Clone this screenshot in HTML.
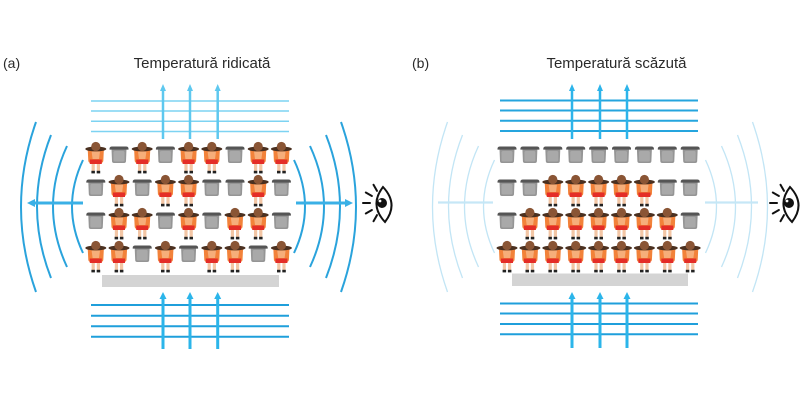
<!DOCTYPE html>
<html><head><meta charset="utf-8"><style>
html,body{margin:0;padding:0;background:#fff;}
svg{display:block;}
text{font-family:"Liberation Sans",sans-serif;fill:#2a2a2a;}
</style></head><body>
<svg width="800" height="402" viewBox="0 0 800 402" xmlns="http://www.w3.org/2000/svg">
<defs>
<g id="p">
 <rect x="-4.2" y="18" width="3.2" height="7.5" fill="#f3c6a5"/>
 <rect x="1" y="18" width="3.2" height="7.5" fill="#f3c6a5"/>
 <rect x="-4.4" y="24.8" width="3.5" height="2.6" fill="#222"/>
 <rect x="0.9" y="24.8" width="3.5" height="2.6" fill="#222"/>
 <path d="M-8,5 Q-9,3.5 -6.5,3.5 L6.5,3.5 Q9,3.5 8,5 L7.5,15 Q7,17 5,17 L-5,17 Q-7,17 -7.5,15 Z" fill="#f2823a"/>
 <path d="M-4.2,5.5 L4.2,5.5 L3.2,13 L-3.2,13 Z" fill="#f6ae7a"/>
 <rect x="-6" y="13.5" width="12" height="4.5" fill="#e42d27"/>
 <ellipse cx="0" cy="3" rx="10.5" ry="2.4" fill="#4a3020"/>
 <circle cx="0" cy="0.5" r="4.6" fill="#8a5535"/>
</g>
<g id="s">
 <path d="M-7.5,3 L7.5,3 L7,15 Q7,17 5,17 L-5,17 Q-7,17 -7,15 Z" fill="#959595"/>
 <rect x="-5.5" y="5" width="11" height="10.5" rx="1.5" fill="#a9a9a9"/>
 <path d="M-9.5,2.8 Q-9.5,0.5 -7,0.5 L7,0.5 Q9.5,0.5 9.5,2.8 L9.5,3.6 L-9.5,3.6 Z" fill="#555"/>
</g>
<g id="eye">
 <path d="M383,187 Q369,205 385,222 Q399,204 383,187 Z" fill="#fff" stroke="#111" stroke-width="2"/>
 <circle cx="382" cy="203" r="5" fill="#111"/>
 <circle cx="380" cy="201" r="1.4" fill="#fff"/>
 <g stroke="#111" stroke-width="2" stroke-linecap="round">
  <line x1="377" y1="190.9" x2="373.5" y2="184.8"/>
  <line x1="371.9" y1="196" x2="365.8" y2="192.5"/>
  <line x1="370" y1="203" x2="363" y2="203"/>
  <line x1="371.9" y1="210" x2="365.8" y2="213.5"/>
  <line x1="377" y1="215.1" x2="373.5" y2="221.2"/>
 </g>
</g>
<g id="arcs">
 <path d="M36,122 Q6,207 36,292"/>
 <path d="M51,135 Q23,206.5 51,278"/>
 <path d="M67,146 Q39,206.5 67,267"/>
 <path d="M83,160 Q61,206.5 83,253"/>
 <path d="M341,122 Q371,207 341,292"/>
 <path d="M326,135 Q354,206.5 326,278"/>
 <path d="M310,146 Q338,206.5 310,267"/>
 <path d="M294,160 Q316,206.5 294,253"/>
</g>
</defs>

<!-- ================= (a) ================= -->
<text x="3" y="68" font-size="14">(a)</text>
<text x="202" y="68" font-size="15" text-anchor="middle">Temperatură ridicată</text>

<g stroke="#7dd3f2" stroke-width="1.5">
 <line x1="91" y1="101" x2="289" y2="101"/>
 <line x1="91" y1="111" x2="289" y2="111"/>
 <line x1="91" y1="121.3" x2="289" y2="121.3"/>
 <line x1="91" y1="131.5" x2="289" y2="131.5"/>
</g>
<g stroke="#5ec8ef" stroke-width="2.5">
 <line x1="163" y1="139" x2="163" y2="90"/>
 <line x1="190" y1="139" x2="190" y2="90"/>
 <line x1="217.7" y1="139" x2="217.7" y2="90"/>
</g>
<g fill="#5ec8ef">
 <polygon points="163,84 160,91 166,91"/>
 <polygon points="190,84 187,91 193,91"/>
 <polygon points="217.7,84 214.7,91 220.7,91"/>
</g>

<g stroke="#1f9fdb" stroke-width="2">
 <line x1="91" y1="305" x2="289" y2="305"/>
 <line x1="91" y1="315.7" x2="289" y2="315.7"/>
 <line x1="91" y1="326.3" x2="289" y2="326.3"/>
 <line x1="91" y1="336.7" x2="289" y2="336.7"/>
</g>
<g stroke="#2bb5ea" stroke-width="3">
 <line x1="163" y1="349" x2="163" y2="298"/>
 <line x1="190" y1="349" x2="190" y2="298"/>
 <line x1="217.7" y1="349" x2="217.7" y2="298"/>
</g>
<g fill="#2bb5ea">
 <polygon points="163,292 159.5,299 166.5,299"/>
 <polygon points="190,292 186.5,299 193.5,299"/>
 <polygon points="217.7,292 214.2,299 221.2,299"/>
</g>

<g fill="none" stroke="#2aa3dc" stroke-width="2"><use href="#arcs"/></g>
<g stroke="#3ab0e6" stroke-width="3">
 <line x1="83" y1="203" x2="33" y2="203"/>
 <line x1="296" y1="203" x2="347" y2="203"/>
</g>
<g fill="#3ab0e6">
 <polygon points="27,203 35,199 35,207"/>
 <polygon points="353,203 345,199 345,207"/>
</g>

<rect x="102" y="275" width="177" height="12" fill="#d4d4d4"/>

<use href="#p" transform="translate(95.8,146)"/>
<use href="#s" transform="translate(119,146)"/>
<use href="#p" transform="translate(142.2,146)"/>
<use href="#s" transform="translate(165.4,146)"/>
<use href="#p" transform="translate(188.6,146)"/>
<use href="#p" transform="translate(211.8,146)"/>
<use href="#s" transform="translate(235,146)"/>
<use href="#p" transform="translate(258.2,146)"/>
<use href="#p" transform="translate(281.4,146)"/>
<use href="#s" transform="translate(95.8,179)"/>
<use href="#p" transform="translate(119,179)"/>
<use href="#s" transform="translate(142.2,179)"/>
<use href="#p" transform="translate(165.4,179)"/>
<use href="#p" transform="translate(188.6,179)"/>
<use href="#s" transform="translate(211.8,179)"/>
<use href="#s" transform="translate(235,179)"/>
<use href="#p" transform="translate(258.2,179)"/>
<use href="#s" transform="translate(281.4,179)"/>
<use href="#s" transform="translate(95.8,212)"/>
<use href="#p" transform="translate(119,212)"/>
<use href="#p" transform="translate(142.2,212)"/>
<use href="#s" transform="translate(165.4,212)"/>
<use href="#p" transform="translate(188.6,212)"/>
<use href="#s" transform="translate(211.8,212)"/>
<use href="#p" transform="translate(235,212)"/>
<use href="#p" transform="translate(258.2,212)"/>
<use href="#s" transform="translate(281.4,212)"/>
<use href="#p" transform="translate(95.8,245)"/>
<use href="#p" transform="translate(119,245)"/>
<use href="#s" transform="translate(142.2,245)"/>
<use href="#p" transform="translate(165.4,245)"/>
<use href="#s" transform="translate(188.6,245)"/>
<use href="#p" transform="translate(211.8,245)"/>
<use href="#p" transform="translate(235,245)"/>
<use href="#s" transform="translate(258.2,245)"/>
<use href="#p" transform="translate(281.4,245)"/>

<use href="#eye"/>

<!-- ================= (b) ================= -->
<text x="412" y="68" font-size="14">(b)</text>
<text x="616.5" y="68" font-size="15" text-anchor="middle">Temperatură scăzută</text>

<g stroke="#25a5de" stroke-width="2">
 <line x1="500" y1="100.5" x2="698" y2="100.5"/>
 <line x1="500" y1="110.5" x2="698" y2="110.5"/>
 <line x1="500" y1="120.8" x2="698" y2="120.8"/>
 <line x1="500" y1="131" x2="698" y2="131"/>
</g>
<g stroke="#2cb4ea" stroke-width="2.5">
 <line x1="572" y1="139" x2="572" y2="90"/>
 <line x1="600" y1="139" x2="600" y2="90"/>
 <line x1="627" y1="139" x2="627" y2="90"/>
</g>
<g fill="#2cb4ea">
 <polygon points="572,84 569,91 575,91"/>
 <polygon points="600,84 597,91 603,91"/>
 <polygon points="627,84 624,91 630,91"/>
</g>

<g stroke="#1f9fdb" stroke-width="2">
 <line x1="500" y1="303.5" x2="698" y2="303.5"/>
 <line x1="500" y1="313.5" x2="698" y2="313.5"/>
 <line x1="500" y1="324" x2="698" y2="324"/>
 <line x1="500" y1="334.3" x2="698" y2="334.3"/>
</g>
<g stroke="#2bb5ea" stroke-width="3">
 <line x1="572" y1="348" x2="572" y2="298"/>
 <line x1="600" y1="348" x2="600" y2="298"/>
 <line x1="627" y1="348" x2="627" y2="298"/>
</g>
<g fill="#2bb5ea">
 <polygon points="572,292 568.5,299 575.5,299"/>
 <polygon points="600,292 596.5,299 603.5,299"/>
 <polygon points="627,292 623.5,299 630.5,299"/>
</g>

<g fill="none" stroke="#c2e5f5" stroke-width="1.3" transform="translate(411.5,0)"><use href="#arcs"/></g>
<g stroke="#c6e7f6" stroke-width="2.2">
 <line x1="438" y1="202.5" x2="493" y2="202.5"/>
 <line x1="705" y1="202.5" x2="758" y2="202.5"/>
</g>

<rect x="512" y="273.5" width="176" height="12.5" fill="#d4d4d4"/>

<use href="#s" transform="translate(507,146)"/>
<use href="#s" transform="translate(529.9,146)"/>
<use href="#s" transform="translate(552.8,146)"/>
<use href="#s" transform="translate(575.7,146)"/>
<use href="#s" transform="translate(598.6,146)"/>
<use href="#s" transform="translate(621.5,146)"/>
<use href="#s" transform="translate(644.4,146)"/>
<use href="#s" transform="translate(667.3,146)"/>
<use href="#s" transform="translate(690.2,146)"/>
<use href="#s" transform="translate(507,179)"/>
<use href="#s" transform="translate(529.9,179)"/>
<use href="#p" transform="translate(552.8,179)"/>
<use href="#p" transform="translate(575.7,179)"/>
<use href="#p" transform="translate(598.6,179)"/>
<use href="#p" transform="translate(621.5,179)"/>
<use href="#p" transform="translate(644.4,179)"/>
<use href="#s" transform="translate(667.3,179)"/>
<use href="#s" transform="translate(690.2,179)"/>
<use href="#s" transform="translate(507,212)"/>
<use href="#p" transform="translate(529.9,212)"/>
<use href="#p" transform="translate(552.8,212)"/>
<use href="#p" transform="translate(575.7,212)"/>
<use href="#p" transform="translate(598.6,212)"/>
<use href="#p" transform="translate(621.5,212)"/>
<use href="#p" transform="translate(644.4,212)"/>
<use href="#p" transform="translate(667.3,212)"/>
<use href="#s" transform="translate(690.2,212)"/>
<use href="#p" transform="translate(507,245)"/>
<use href="#p" transform="translate(529.9,245)"/>
<use href="#p" transform="translate(552.8,245)"/>
<use href="#p" transform="translate(575.7,245)"/>
<use href="#p" transform="translate(598.6,245)"/>
<use href="#p" transform="translate(621.5,245)"/>
<use href="#p" transform="translate(644.4,245)"/>
<use href="#p" transform="translate(667.3,245)"/>
<use href="#p" transform="translate(690.2,245)"/>

<use href="#eye" transform="translate(407,0)"/>
</svg>
</body></html>
